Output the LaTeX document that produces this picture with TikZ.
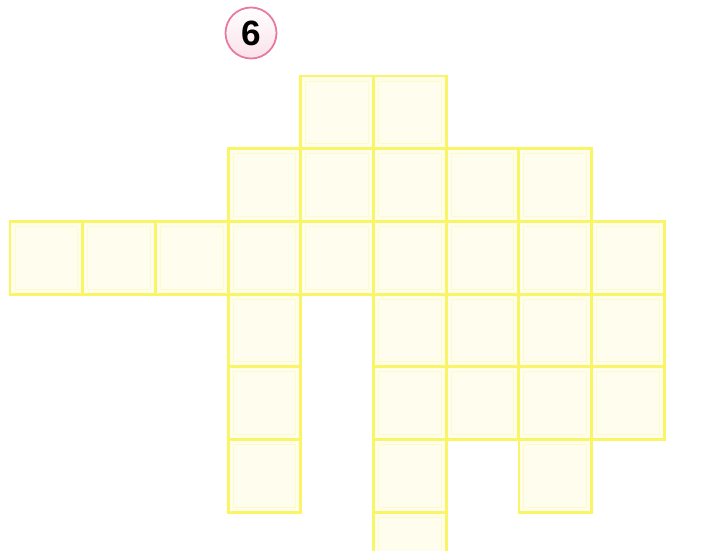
\documentclass[tikz,border=0pt]{standalone}
\usepackage{fontspec}
\setsansfont{Liberation Sans}
\usetikzlibrary{positioning}
\definecolor{cellline}{RGB}{250,245,100}
\definecolor{cellfill}{RGB}{255,254,238}
\definecolor{ringpink}{RGB}{232,120,160}
\begin{document}
\begin{tikzpicture}[x=0.02cm, y=-0.02cm,
    cell/.style={draw=cellline, fill=cellfill, line width=1.6pt,
                 minimum size=1.454cm, inner sep=0pt, outer sep=0pt},
    tag/.style={circle, draw=ringpink, line width=1pt, top color=white,
                bottom color=ringpink!22, minimum size=1.02cm, inner sep=0pt,
                font=\sffamily\bfseries\fontsize{20}{20}\selectfont}]
    \clip (0,0) rectangle (724,551);
    \fill[white] (0,0) rectangle (724,551);

    % number tag
    \node[tag] (num) at (251,33) {6};

    % the cells of the net, as column/row
    \foreach \c/\r in {4/0,5/0,
                       3/1,4/1,5/1,6/1,7/1,
                       0/2,1/2,2/2,3/2,4/2,5/2,6/2,7/2,8/2,
                       3/3,5/3,6/3,7/3,8/3,
                       3/4,5/4,6/4,7/4,8/4,
                       3/5,5/5,7/5,
                       5/6} {
        \node[cell] (c\c r\r) at ({10+72.7*\c+36.35},{76+72.7*\r+36.35}) {};
        \draw[cellline!35, line width=0.5pt]
            ([shift={(5,5)}]c\c r\r.north west) rectangle ([shift={(-5,-5)}]c\c r\r.south east);
    }
\end{tikzpicture}
\end{document}
